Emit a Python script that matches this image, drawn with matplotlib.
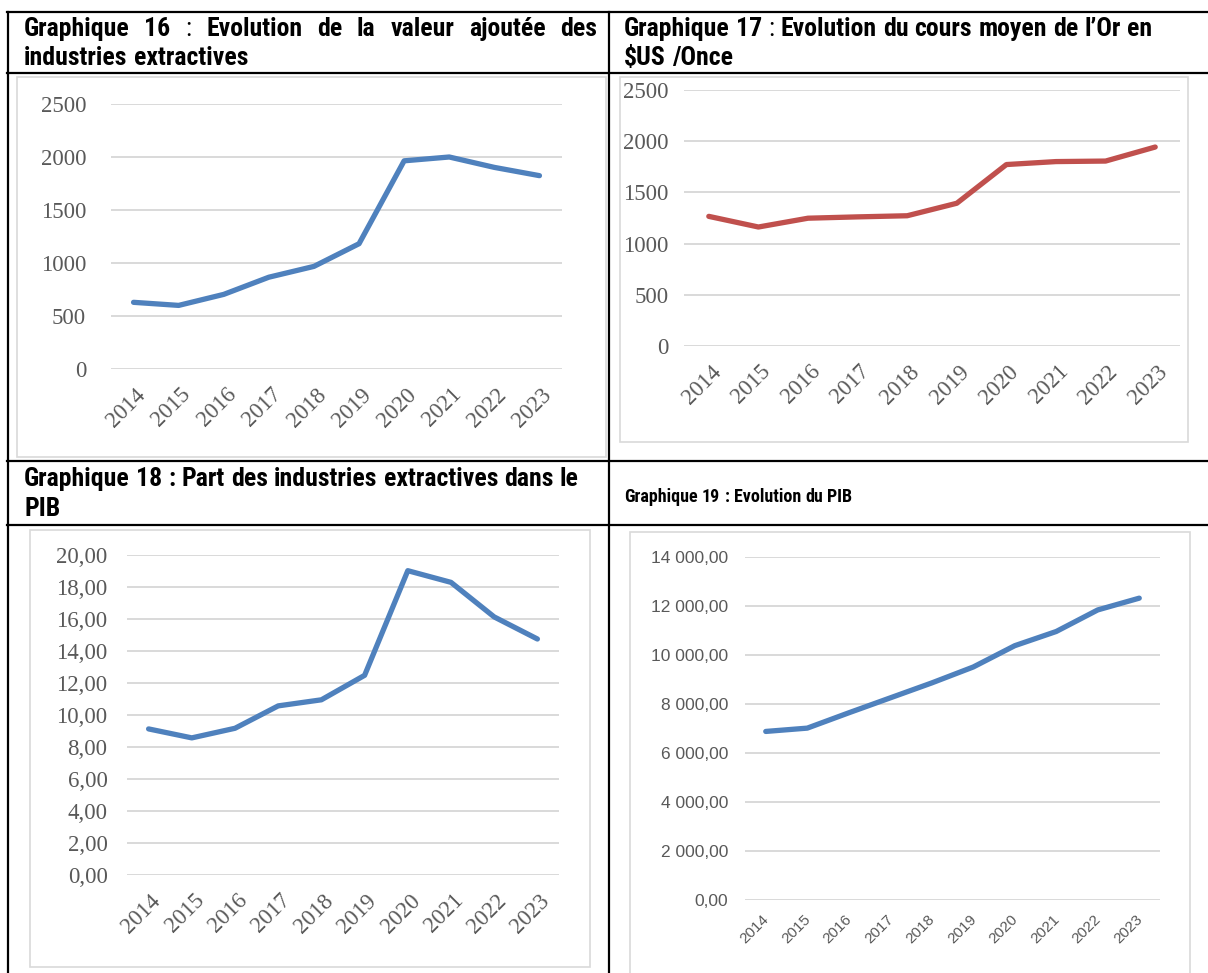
import matplotlib
matplotlib.use("Agg")
import matplotlib.pyplot as plt
import matplotlib.transforms as mtransforms
from matplotlib import font_manager as fm
from matplotlib.lines import Line2D
from matplotlib.patches import Rectangle
from matplotlib.ticker import FuncFormatter

# data
years = ["2014", "2015", "2016", "2017", "2018", "2019", "2020", "2021", "2022", "2023"]
va_extractives = [629, 600, 704, 866, 968, 1182, 1964, 2000, 1902, 1824]
cours_or = [1266, 1162, 1248, 1261, 1272, 1394, 1772, 1801, 1806, 1943]
part_pib = [9.13, 8.57, 9.17, 10.57, 10.95, 12.48, 19.02, 18.29, 16.13, 14.75]
pib = [6880, 7015, 7640, 8250, 8860, 9510, 10380, 10960, 11840, 12320]

BLUE = "#4F81BD"
RED = "#C0504D"
GRID = "#D9D9D9"
TXT = "#595959"
W, H = 1208, 973

SERIF = ["Liberation Serif", "DejaVu Serif"]
SANS = ["Liberation Sans", "DejaVu Sans"]

# look for a narrow sans for the headers (Arial Narrow look)
HEAD_FONT = ["Liberation Sans", "DejaVu Sans"]
HEAD_STRETCH = "normal"
narrow = False
for f in fm.fontManager.ttflist:
    if f.name in ("Liberation Sans Narrow", "Arial Narrow", "Roboto Condensed"):
        HEAD_FONT = [f.name, "DejaVu Sans"]
        narrow = True
        break
if not narrow:
    for f in fm.fontManager.ttflist:
        if f.name in ("Noto Sans", "Open Sans", "Roboto") and str(f.stretch) in ("condensed", "semi-condensed", "extra-condensed"):
            HEAD_FONT = [f.name, "DejaVu Sans"]
            HEAD_STRETCH = "condensed"
            narrow = True
            break

fig = plt.figure(figsize=(W / 100, H / 100), dpi=100)


def rect(x0, y0, x1, y1):
    return [x0 / W, 1 - y1 / H, (x1 - x0) / W, (y1 - y0) / H]


def hline(x0, x1, y, color="black", lw=1.6):
    fig.add_artist(Line2D([x0 / W, x1 / W], [1 - y / H, 1 - y / H], color=color, lw=lw))


def vline(x, y0, y1, color="black", lw=1.6):
    fig.add_artist(Line2D([x / W, x / W], [1 - y0 / H, 1 - y1 / H], color=color, lw=lw))


def frame(x0, y0, x1, y1):
    fig.add_artist(Rectangle((x0 / W, 1 - y1 / H), (x1 - x0) / W, (y1 - y0) / H,
                             fill=False, edgecolor=GRID, lw=1.2))


# table borders
hline(7, 1208, 12)
hline(7, 1208, 73)
hline(7, 1208, 461)
hline(7, 1208, 525)
vline(8, 12, 973)
vline(609, 12, 973)

# chart frames
frame(17, 77, 606, 457)
frame(620, 77, 1188, 442)
frame(30, 530, 590, 967)
frame(630, 532, 1190, 980)


def make_chart(r, values, color, ymax, step, fmt, font, ysize, xsize, ypad, xpad, dx, dy):
    ax = fig.add_axes(rect(*r))
    ax.set_facecolor("none")
    x = list(range(len(years)))
    ax.plot(x, values, color=color, lw=3.8, solid_capstyle="round", solid_joinstyle="round")
    ax.set_xlim(-0.5, len(years) - 0.5)
    ax.set_ylim(0, ymax)
    ax.set_yticks([i * step for i in range(int(ymax / step) + 1)])
    ax.yaxis.set_major_formatter(FuncFormatter(fmt))
    ax.grid(axis="y", color=GRID, lw=1.4)
    ax.set_axisbelow(True)
    for s in ax.spines.values():
        s.set_visible(False)
    ax.tick_params(length=0, colors=TXT)
    ax.tick_params(axis="y", pad=ypad)
    ax.tick_params(axis="x", pad=xpad)
    ax.set_xticks(x)
    ax.set_xticklabels(years, rotation=45, ha="right", va="center", rotation_mode="anchor")
    shift = mtransforms.ScaledTranslation(dx / 100, -dy / 100, fig.dpi_scale_trans)
    for t in ax.get_yticklabels():
        t.set_fontfamily(font)
        t.set_fontsize(ysize)
    for t in ax.get_xticklabels():
        t.set_fontfamily(font)
        t.set_fontsize(xsize)
        t.set_transform(t.get_transform() + shift)
    return ax


def fr_num(v, pos):
    s = f"{v:,.2f}"
    return s.replace(",", " ").replace(".", ",")


make_chart((111, 104, 562, 369), va_extractives, BLUE, 2500, 500,
           lambda v, p: f"{v:.0f}", SERIF, 16.5, 16.5, 18, 14, 9, 3)
make_chart((684, 90, 1180, 346), cours_or, RED, 2500, 500,
           lambda v, p: f"{v:.0f}", SERIF, 16.5, 16.5, 11, 14, 9, 3)
make_chart((127, 555, 559, 875), part_pib, BLUE, 20, 2,
           lambda v, p: f"{v:.2f}".replace(".", ","), SERIF, 16.5, 16.5, 14, 14, 9, 3)
make_chart((745, 557, 1160, 900), pib, BLUE, 14000, 2000,
           fr_num, SANS, 12.5, 11, 12, 10, 1, 3)

# headers
renderer = fig.canvas.get_renderer()
HS = 18.5 if narrow else 15


def put_words(words, x0, y, x1=None, size=HS):
    # words: list of (text, weight); justified between x0 and x1 when x1 given
    arts = []
    for w, wt in words:
        t = fig.text(0, 1 - y / H, w, fontsize=size, fontweight=wt, family=HEAD_FONT,
                     fontstretch=HEAD_STRETCH, va="center", ha="left", parse_math=False)
        arts.append(t)
    widths = [a.get_window_extent(renderer).width for a in arts]
    if x1 is None:
        space = 0.24 * size * 100 / 72
    else:
        space = (x1 - x0 - sum(widths)) / (len(arts) - 1)
    x = x0
    for a, wd in zip(arts, widths):
        a.set_x(x / W)
        x += wd + space


put_words([("Graphique", "bold"), ("16", "bold"), (":", "normal"), ("Evolution", "bold"),
           ("de", "bold"), ("la", "bold"), ("valeur", "bold"), ("ajoutée", "bold"),
           ("des", "bold")], 24, 29, 597)
put_words([("industries", "bold"), ("extractives", "bold")], 24, 58)
put_words([("Graphique", "bold"), ("17", "bold"), (":", "normal"), ("Evolution", "bold"),
           ("du", "bold"), ("cours", "bold"), ("moyen", "bold"), ("de", "bold"),
           ("l’Or", "bold"), ("en", "bold")], 624, 29)
put_words([("$US", "bold"), ("/Once", "bold")], 624, 58)
put_words([("Graphique", "bold"), ("18", "bold"), (":", "bold"), ("Part", "bold"),
           ("des", "bold"), ("industries", "bold"), ("extractives", "bold"),
           ("dans", "bold"), ("le", "bold")], 24, 479)
put_words([("PIB", "bold")], 24, 509)
put_words([("Graphique", "bold"), ("19", "bold"), (":", "bold"), ("Evolution", "bold"),
           ("du", "bold"), ("PIB", "bold")], 624, 497, size=13 if narrow else 11.5)

fig.savefig("out.png", dpi=100)
